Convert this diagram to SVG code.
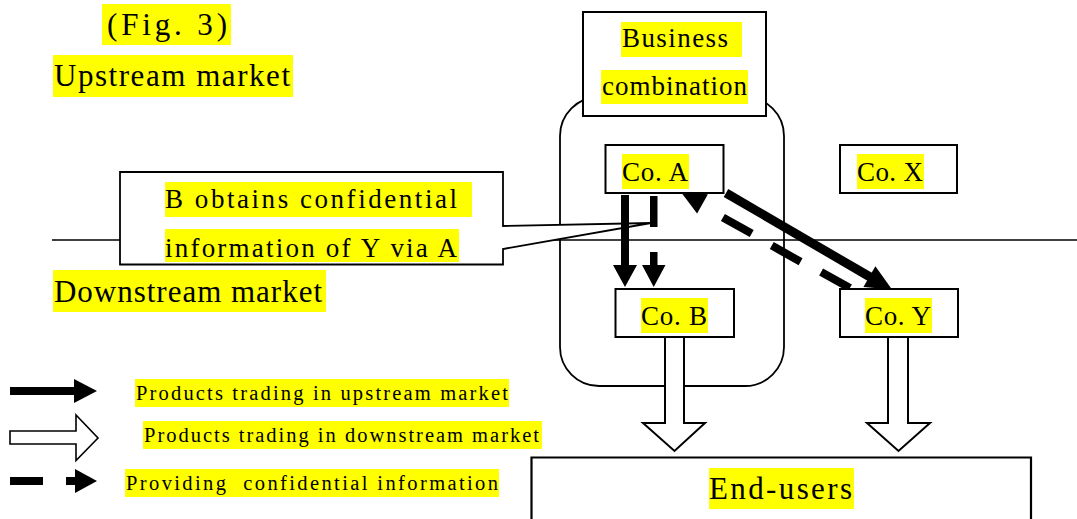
<svg xmlns="http://www.w3.org/2000/svg" width="1077" height="519" viewBox="0 0 1077 519">
<style>
.t{font-family:"Liberation Serif","DejaVu Serif",serif;fill:#000}
.big{font-size:31px}
.mid{font-size:27px}
.sm{font-size:20.5px}
.hl{fill:#ffff00}
.box{fill:#fff;stroke:#000;stroke-width:2}
.ln{fill:none;stroke:#000;stroke-width:1.6}
.open{fill:#fff;stroke:#000;stroke-width:2;stroke-linejoin:miter}
.solid{fill:#000}
</style>
<rect width="1077" height="519" fill="#fff"/>
<g id="labels">
<rect class="hl" x="102" y="4" width="129" height="41"/>
<text class="t big" x="107" y="35" textLength="120">(Fig. 3)</text>
<rect class="hl" x="53" y="55" width="240" height="42"/>
<text class="t big" x="54" y="86" textLength="236">Upstream market</text>
<rect class="hl" x="53" y="270" width="273" height="42"/>
<text class="t big" x="54" y="302" textLength="268">Downstream market</text>
</g>
<g id="market-line">
<line class="ln" x1="52" y1="240" x2="1077" y2="240"/>
</g>
<g id="business-combination-area">
<rect x="560" y="97" width="224" height="289" rx="39" ry="39" fill="none" stroke="#000" stroke-width="1.8"/>
</g>
<g id="callout">
<path d="M120,172 H503 V226 L651,223 L503,249 V264.5 H120 Z" fill="#fff" stroke="#000" stroke-width="1.8" stroke-linejoin="miter"/>
<rect class="hl" x="165" y="182" width="307" height="35"/>
<text class="t mid" x="165" y="208" textLength="292">B obtains confidential</text>
<rect class="hl" x="165" y="229" width="294" height="33"/>
<text class="t mid" x="165" y="257" textLength="292">information of Y via A</text>
</g>
<g id="business-combination">
<rect class="box" x="583" y="12" width="183" height="104"/>
<rect class="hl" x="621" y="22" width="121" height="35"/>
<text class="t mid" x="622" y="47" textLength="106">Business</text>
<rect class="hl" x="601" y="70" width="147" height="34"/>
<text class="t mid" x="602" y="95" textLength="145">combination</text>
</g>
<g id="connectors">
<rect class="solid" x="621" y="195" width="8" height="71"/>
<polygon class="solid" points="613,265 637,265 625,287"/>
<rect class="solid" x="650" y="196" width="7.5" height="31"/>
<rect class="solid" x="650" y="252" width="7.5" height="14"/>
<polygon class="solid" points="642,265 665.5,265 653.7,287"/>
<line x1="726" y1="193" x2="871" y2="277.5" stroke="#000" stroke-width="9"/>
<polygon class="solid" points="875.4,266.2 892,289.5 863.4,287"/>
<g stroke="#000" stroke-width="8">
<line x1="722.9" y1="217.4" x2="751.7" y2="233.6"/>
<line x1="771.8" y1="245.6" x2="800.6" y2="261.8"/>
<line x1="821.1" y1="271.9" x2="849.9" y2="288.1"/>
</g>
<polygon class="solid" points="697.1,213.5 707.9,194.3 680.7,191.7"/>
<polygon class="open" points="665,337 684,337 684,423 705,423 674.5,451 643,423 665,423"/>
<polygon class="open" points="888,337 908,337 908,423 930,423 898.5,451 867,423 888,423"/>
</g>
<g id="co-a">
<rect class="box" x="605.5" y="145" width="118" height="48"/>
<rect class="hl" x="622" y="154" width="67" height="35"/>
<text class="t mid" x="622" y="181" textLength="66">Co. A</text>
</g>
<g id="co-x">
<rect class="box" x="840" y="145" width="117" height="48"/>
<rect class="hl" x="857" y="154" width="67" height="35"/>
<text class="t mid" x="857" y="181" textLength="66">Co. X</text>
</g>
<g id="co-b">
<rect class="box" x="615.5" y="289" width="118.5" height="48"/>
<rect class="hl" x="641" y="298" width="67" height="35"/>
<text class="t mid" x="641" y="325" textLength="66">Co. B</text>
</g>
<g id="co-y">
<rect class="box" x="840" y="289" width="118" height="48"/>
<rect class="hl" x="865" y="298" width="67" height="35"/>
<text class="t mid" x="865" y="325" textLength="66">Co. Y</text>
</g>
<g id="end-users">
<path d="M531.5,519 V457.5 H1031 V519" fill="#fff" stroke="#000" stroke-width="2.2"/>
<rect class="hl" x="709" y="468" width="145" height="41"/>
<text class="t big" x="709" y="499" textLength="143">End-users</text>
</g>
<g id="legend">
<rect class="solid" x="10" y="387" width="65" height="8"/>
<polygon class="solid" points="74,379 97,391 74,403"/>
<polygon class="open" points="10,431 76,431 76,415 98,438 76,460.5 76,444 10,444" style="stroke-width:1.6"/>
<rect class="solid" x="10" y="477" width="33" height="8"/>
<rect class="solid" x="66" y="477" width="10" height="8"/>
<polygon class="solid" points="75,469 97,481 75,493"/>
<rect class="hl" x="135" y="379" width="374" height="28"/>
<text class="t sm" x="136" y="400" textLength="372">Products trading in upstream market</text>
<rect class="hl" x="143" y="421" width="399" height="28"/>
<text class="t sm" x="144" y="442" textLength="395">Products trading in downstream market</text>
<rect class="hl" x="125" y="469" width="374" height="28"/>
<text class="t sm" x="126" y="490" textLength="372" xml:space="preserve">Providing  confidential information</text>
</g>
</svg>
